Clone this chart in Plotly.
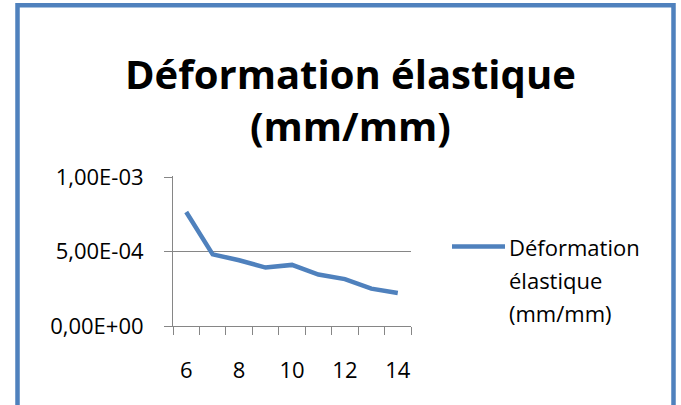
import plotly.graph_objects as go

# Elastic strain (mm/mm) per step
x_values = [6, 7, 8, 9, 10, 11, 12, 13, 14]
strain = [7.65e-4, 4.81e-4, 4.41e-4, 3.92e-4, 4.10e-4, 3.45e-4, 3.15e-4, 2.51e-4, 2.21e-4]

x_tick_vals = [6, 8, 10, 12, 14]
y_tick_vals = [0, 5e-4, 1e-3]
y_tick_text = ["0,00E+00", "5,00E-04", "1,00E-03"]

series_name = "Déformation élastique (mm/mm)"
title_lines = ["Déformation élastique", "(mm/mm)"]
legend_lines = ["Déformation", "élastique", "(mm/mm)"]
caption = "déformation élastique équivalente en fonction de la charge"

W, H = 681, 405
L, R, T, B = 173, 411, 177, 326  # plot area in pixels

BLUE = "#4F81BD"
GREY = "#868686"
FONT = "Open Sans"
TICK_SIZE = 22
LEGEND_SIZE = 22
TITLE_SIZE = 40


def px(x):
    return (x - L) / (R - L)


def py(y):
    return (B - y) / (B - T)


fig = go.Figure()
fig.add_trace(go.Scatter(
    x=x_values, y=strain, mode="lines", name=series_name,
    line=dict(color=BLUE, width=4.5), showlegend=False,
))

annotations = []
# chart title
annotations.append(dict(text="<b>%s</b>" % title_lines[0], x=px(350), y=py(75),
                        xref="paper", yref="paper", showarrow=False,
                        xanchor="center", yanchor="middle",
                        font=dict(family=FONT, size=TITLE_SIZE, color="black")))
annotations.append(dict(text="<b>%s</b>" % title_lines[1], x=px(350), y=py(127),
                        xref="paper", yref="paper", showarrow=False,
                        xanchor="center", yanchor="middle",
                        font=dict(family=FONT, size=TITLE_SIZE, color="black")))
# legend text
for i, line in enumerate(legend_lines):
    annotations.append(dict(text=line, x=px(507), y=py(248 + 32.5 * i),
                            xref="paper", yref="paper", showarrow=False,
                            xanchor="left", yanchor="middle",
                            font=dict(family=FONT, size=LEGEND_SIZE, color="black")))
# caption above the frame
annotations.append(dict(text=caption, x=px(309), y=py(4),
                        xref="paper", yref="paper", showarrow=False,
                        xanchor="center", yanchor="bottom",
                        font=dict(family="Liberation Serif", size=15, color="#555555")))

shapes = [
    # frame
    dict(type="rect", xref="paper", yref="paper",
         x0=px(17.5), x1=px(673.5), y0=py(7.5), y1=py(430),
         line=dict(color=BLUE, width=4.5), fillcolor="rgba(0,0,0,0)"),
    # legend sample
    dict(type="line", xref="paper", yref="paper",
         x0=px(452), x1=px(505), y0=py(247), y1=py(247),
         line=dict(color=BLUE, width=4.5)),
]

fig.update_layout(
    width=W, height=H,
    margin=dict(l=L, r=W - R, t=T - 1, b=H - B, pad=0),
    paper_bgcolor="white", plot_bgcolor="white",
    annotations=annotations, shapes=shapes,
    showlegend=False,
    font=dict(family=FONT, size=TICK_SIZE, color="black"),
)
fig.update_xaxes(
    range=[5.5, 14.5], tickvals=x_tick_vals, ticks="",
    ticklabelstandoff=25, showgrid=False, zeroline=False,
    showline=True, linecolor=GREY, linewidth=1,
    minor=dict(tick0=5.5, dtick=1, ticks="outside", ticklen=8,
               tickcolor=GREY, showgrid=False),
    tickfont=dict(family=FONT, size=TICK_SIZE, color="black"),
)
fig.update_yaxes(
    range=[0, 1.0067e-3], tickvals=y_tick_vals, ticktext=y_tick_text,
    ticks="outside", ticklen=8, tickcolor=GREY,
    ticklabelstandoff=16,
    showgrid=True, gridcolor=GREY, gridwidth=1, zeroline=False,
    showline=True, linecolor=GREY, linewidth=1,
    tickfont=dict(family=FONT, size=TICK_SIZE, color="black"),
)

fig.write_html("out.html")
